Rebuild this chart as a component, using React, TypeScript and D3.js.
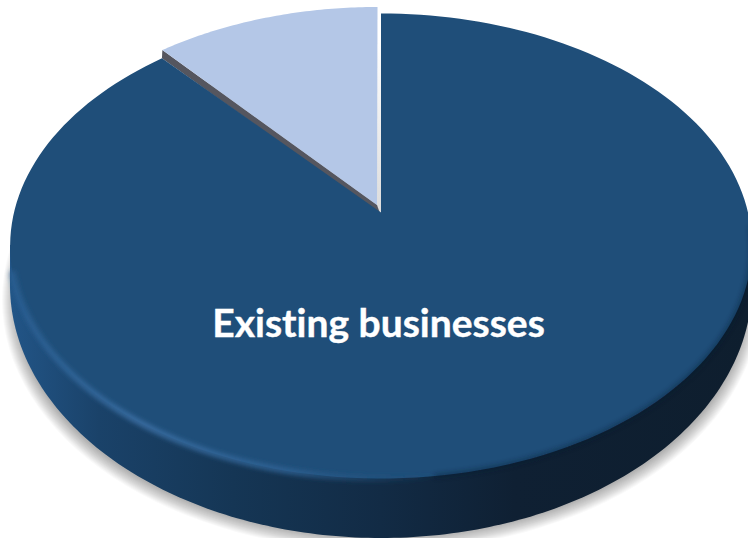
import React from "react";
import * as d3 from "d3";

// Share of the pie, in percent
const categories = ["Existing businesses", "New businesses"];
const shares = [88.5, 11.5];
const sliceColors = ["#1f4e79", "#b4c7e7"];
const sideStops: [string, string][] = [
  ["0%", "#225587"],
  ["12%", "#1a4269"],
  ["30%", "#153655"],
  ["50%", "#122b45"],
  ["68%", "#0f2033"],
  ["100%", "#0e1e2e"],
];

const W = 748;
const H = 538;
const apex = { x: 381, y: 212.5 };
const tilt = { a: 367, b: 227.7, p: 0.144 };
const base = { x: 381, y: 285, rx: 371, ry: 253 };
const shadowLayers = d3.range(1, 15);

// Tilted-disc projection: pie angle (0 = up, clockwise) at radius r onto the screen
function project(angle: number, r = 1): [number, number] {
  const u = r * Math.sin(angle);
  const v = -r * Math.cos(angle);
  const w = 1 - tilt.p * v;
  return [apex.x + (tilt.a * u) / w, apex.y + (tilt.b * v) / w];
}

const line = d3.line();
const sweep = (a0: number, a1: number, n = 180) =>
  d3.range(n + 1).map((i) => project(a0 + ((a1 - a0) * i) / n));

const slices = d3.pie<number>().sort(null)(shares);
const dark = slices[0];
const light = slices[1];
const center: [number, number] = [apex.x, apex.y];

const darkPath = line([center, ...sweep(dark.startAngle, dark.endAngle)]) + "Z";

// The small slice is pulled out up and to the left, and foreshortened a touch
const lightSpan = (light.endAngle - light.startAngle) * 0.98;
const lightEdge = sweep(light.endAngle - lightSpan, light.endAngle, 60).map(
  ([x, y]) => [x - 3.5, y - 6.5] as [number, number]
);
const lightApex: [number, number] = [apex.x - 4, apex.y - 7.5];
const lightPath = line([lightApex, ...lightEdge]) + "Z";

// Cut face showing between the pulled-out slice and the main body
const cutPath =
  line([lightEdge[0], lightApex, [apex.x - 1, apex.y + 1], project(dark.endAngle)]) + "Z";
const wallPath =
  line([
    [apex.x - 4, 40],
    [apex.x + 1, 40],
    [apex.x + 1, apex.y + 2],
    [apex.x - 4, apex.y - 3],
  ]) + "Z";

// Lower half of the disc's underside, closed across the top of the body
const basePts = d3.range(0, 181).map((i) => {
  const t = (Math.PI * i) / 180;
  return [base.x + base.rx * Math.cos(t), base.y + base.ry * Math.sin(t)] as [number, number];
});
const sidePath =
  line([[base.x + base.rx, 245], ...basePts, [base.x - base.rx, 245]]) + "Z";

// Lit rim along the lower left of the top face, dark crease along the lower right
const rimPath = line(sweep(Math.PI * 0.66, Math.PI * 1.42, 120)) ?? "";
const shadePath = line(sweep(Math.PI * 0.52, Math.PI * 0.96, 120)) ?? "";

export default function App() {
  return (
    <svg
      width={W}
      height={H}
      viewBox={`0 0 ${W} ${H}`}
      style={{ position: "absolute", left: 0, top: 0, display: "block", background: "#fff" }}
    >
      <defs>
        <linearGradient id="side" x1="10" x2="752" y1="0" y2="0" gradientUnits="userSpaceOnUse">
          {sideStops.map(([o, c]) => (
            <stop key={o} offset={o} stopColor={c} />
          ))}
        </linearGradient>
        <linearGradient id="rim" x1="10" x2="440" y1="0" y2="0" gradientUnits="userSpaceOnUse">
          <stop offset="0%" stopColor="#2a5f92" />
          <stop offset="30%" stopColor="#3d72a8" />
          <stop offset="65%" stopColor="#2f6395" />
          <stop offset="100%" stopColor="#1f4e79" stopOpacity={0} />
        </linearGradient>
        <linearGradient id="wall" x1="0" x2="0" y1="40" y2="213" gradientUnits="userSpaceOnUse">
          <stop offset="0%" stopColor="#ffffff" />
          <stop offset="100%" stopColor="#dcdcdc" />
        </linearGradient>
        <filter id="rimBlur" x="-10%" y="-10%" width="120%" height="120%">
          <feGaussianBlur stdDeviation="2.4" />
        </filter>
      </defs>

      {/* Soft ground shadow built from stacked, faint ellipses */}
      {shadowLayers.map((k) => (
        <ellipse key={k} cx={381} cy={300} rx={365 + k} ry={237 + k} fill="#000" opacity={0.022} />
      ))}
      <path d={sidePath} fill="url(#side)" />

      <path d={wallPath} fill="url(#wall)" />
      <path d={cutPath} fill="#55565f" />
      <path d={lightPath} fill={sliceColors[1]} />
      <path d={darkPath} fill={sliceColors[0]} />

      <path d={rimPath} fill="none" stroke="url(#rim)" strokeWidth={5} filter="url(#rimBlur)" />
      <path d={shadePath} fill="none" stroke="#0e1e2e" strokeWidth={3} opacity={0.6} filter="url(#rimBlur)" />

      <text
        x={378.5}
        y={337}
        textAnchor="middle"
        fill="#fff"
        stroke="#fff"
        strokeWidth={0.4}
        fontFamily="Lato, 'Open Sans', sans-serif"
        fontWeight={700}
        fontSize={39}
        style={{ fontVariantLigatures: "none" }}
      >
        {categories[0]}
      </text>
    </svg>
  );
}
